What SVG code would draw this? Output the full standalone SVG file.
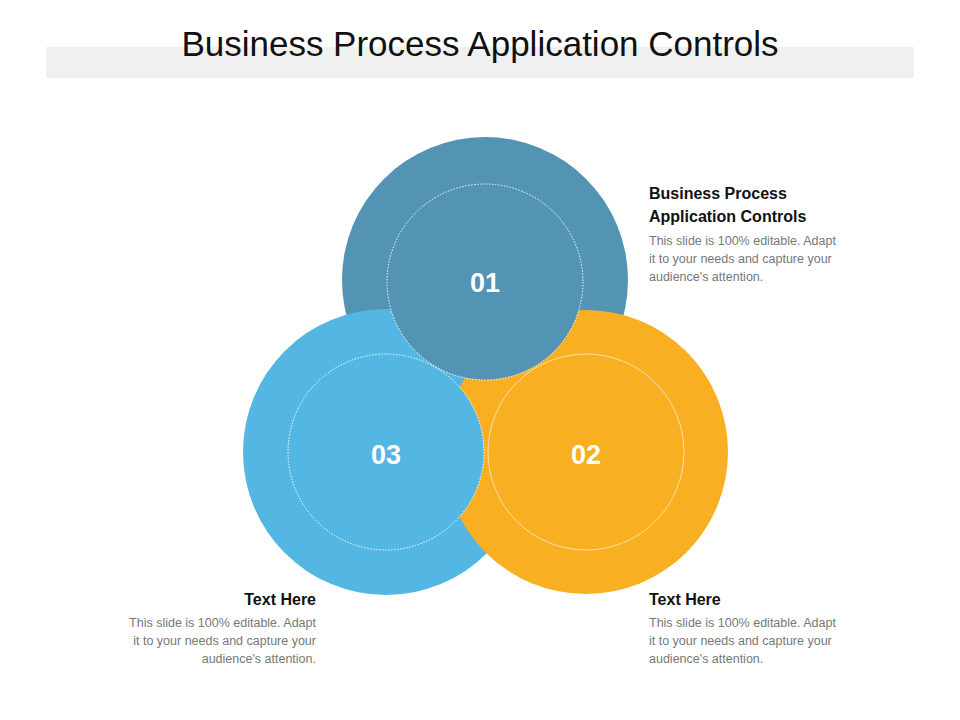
<svg xmlns="http://www.w3.org/2000/svg" width="960" height="720" viewBox="0 0 960 720">
<style>
.t{font-family:"Liberation Sans",Arial,sans-serif}
.num{font-family:"Liberation Sans",Arial,sans-serif;font-weight:bold;font-size:27px;fill:#fff;text-anchor:middle}
.h{font-family:"Liberation Sans",Arial,sans-serif;font-weight:bold;font-size:16px;fill:#111}
.b{font-family:"Liberation Sans",Arial,sans-serif;font-size:12.5px;fill:#777}
.in{stroke:#fff;stroke-width:1;stroke-dasharray:1.5 1.5}
</style>
<rect width="960" height="720" fill="#fff"/>
<rect x="46" y="47" width="868" height="31" fill="#f0f0f0"/>
<text class="t" x="480" y="56" font-size="35" text-anchor="middle" fill="#111">Business Process Application Controls</text>
<g id="outer">
<circle cx="485" cy="280" r="143" fill="#5393b3"/>
<circle cx="386" cy="452" r="143" fill="#54b6e3"/>
<circle cx="586" cy="452" r="142" fill="#f8af22"/>
</g>
<g id="node02"><circle cx="586" cy="452" r="98" fill="#f8af22" stroke="#fce0a8" stroke-width="1"/><text class="num" x="586" y="464">02</text></g>
<g id="node03"><circle cx="386" cy="452" r="98" fill="#54b6e3" class="in"/><text class="num" x="386" y="464">03</text></g>
<g id="node01"><circle cx="485" cy="282" r="98" fill="#5393b3" class="in"/><text class="num" x="485" y="292">01</text></g>
<g id="connectors"></g>
<g id="text1"><text class="h" x="649" y="199">Business Process</text><text class="h" x="649" y="222">Application Controls</text>
<text class="b" x="649" y="245">This slide is 100% editable. Adapt</text><text class="b" x="649" y="263">it to your needs and capture your</text><text class="b" x="649" y="281">audience's attention.</text></g>
<g id="text2"><text class="h" x="649" y="605">Text Here</text>
<text class="b" x="649" y="627">This slide is 100% editable. Adapt</text><text class="b" x="649" y="645">it to your needs and capture your</text><text class="b" x="649" y="663">audience's attention.</text></g>
<g id="text3" text-anchor="end"><text class="h" x="316" y="605">Text Here</text>
<text class="b" x="316" y="627">This slide is 100% editable. Adapt</text><text class="b" x="316" y="645">it to your needs and capture your</text><text class="b" x="316" y="663">audience's attention.</text></g>
</svg>
